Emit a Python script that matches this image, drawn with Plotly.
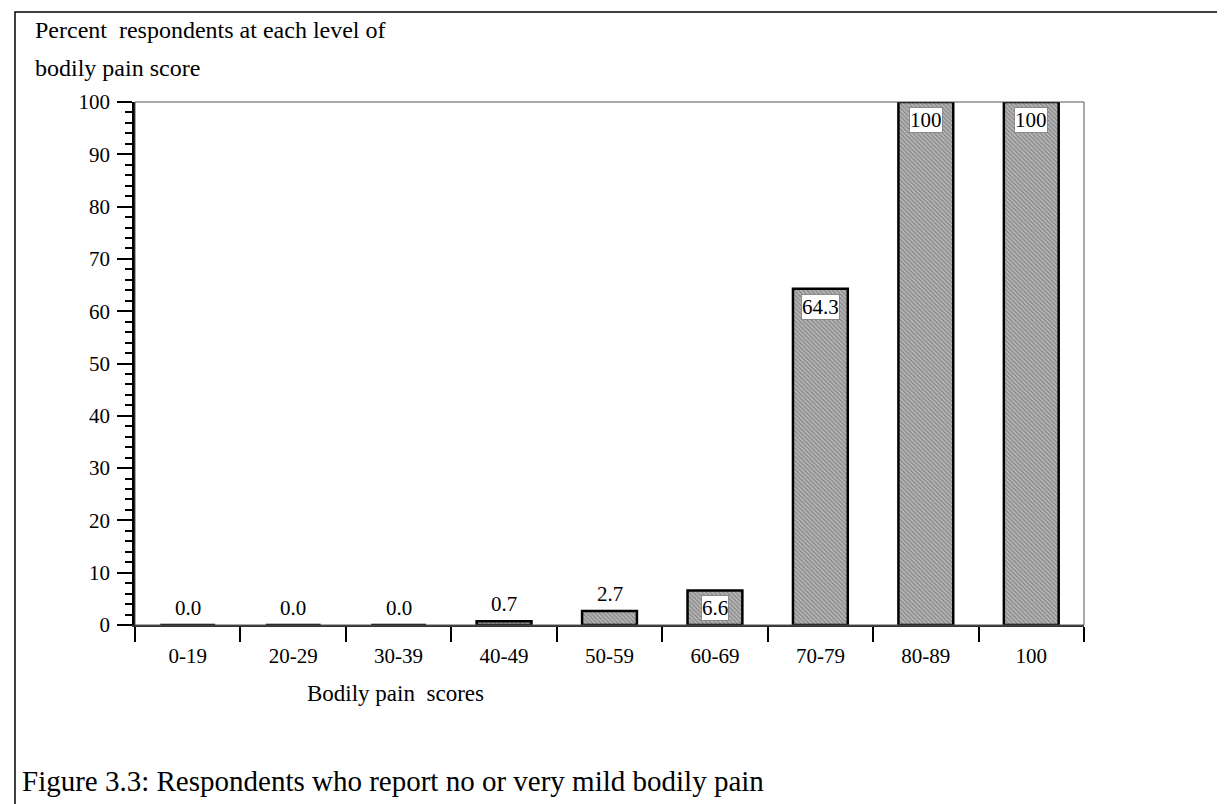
import plotly.graph_objects as go

categories = ["0-19", "20-29", "30-39", "40-49", "50-59", "60-69", "70-79", "80-89", "100"]
values = [0.0, 0.0, 0.0, 0.7, 2.7, 6.6, 64.3, 100, 100]
value_labels = ["0.0", "0.0", "0.0", "0.7", "2.7", "6.6", "64.3", "100", "100"]
y_tick_values = [0, 10, 20, 30, 40, 50, 60, 70, 80, 90, 100]

FONT = "Palatino Linotype, Book Antiqua, Palatino, Liberation Serif, serif"

W, H = 1225, 804
L, R, T, B = 127, 149, 94, 187
pw = W - L - R
ph = H - T - B

def px_x(x):
    return (x - L) / pw

def px_y(y):
    return (H - B - y) / ph

fig = go.Figure()
fig.add_trace(go.Bar(
    x=categories, y=values, width=0.52,
    marker=dict(
        color="#a0a0a0",
        line=dict(color="black", width=2.5),
        pattern=dict(shape="\\", size=3, solidity=0.5, fgcolor="#5c5c5c", bgcolor="#bababa"),
    ),
    hoverinfo="skip",
))

annotations = []
for i, (v, lab) in enumerate(zip(values, value_labels)):
    if v > 5:
        annotations.append(dict(
            x=i, y=v, xref="x", yref="y", text=lab, showarrow=False,
            yanchor="top", yshift=-5, bgcolor="white", bordercolor="#8a8a8a", borderwidth=1, borderpad=0,
            font=dict(family=FONT, size=21, color="black"),
        ))
    else:
        annotations.append(dict(
            x=i, y=v, xref="x", yref="y", text=lab, showarrow=False,
            yanchor="bottom", yshift=3,
            font=dict(family=FONT, size=21, color="black"),
        ))

annotations += [
    dict(x=px_x(25), y=px_y(22), xref="paper", yref="paper", xanchor="left", yanchor="middle",
         text="Percent  respondents at each level of", showarrow=False,
         font=dict(family=FONT, size=24, color="black")),
    dict(x=px_x(25), y=px_y(60), xref="paper", yref="paper", xanchor="left", yanchor="middle",
         text="bodily pain score", showarrow=False,
         font=dict(family=FONT, size=24, color="black")),
    dict(x=px_x(387), y=px_y(685), xref="paper", yref="paper", xanchor="center", yanchor="middle",
         text="Bodily pain  scores", showarrow=False,
         font=dict(family=FONT, size=23, color="black")),
    dict(x=px_x(12), y=px_y(773), xref="paper", yref="paper", xanchor="left", yanchor="middle",
         text="Figure 3.3: Respondents who report no or very mild bodily pain", showarrow=False,
         font=dict(family=FONT, size=29, color="black")),
]

shapes = [
    dict(type="rect", xref="paper", yref="paper", x0=0, y0=0, x1=1, y1=1,
         line=dict(color="#555", width=1), layer="above"),
    dict(type="rect", xref="paper", yref="paper", x0=px_x(7), y0=px_y(801), x1=px_x(1222), y1=px_y(4),
         line=dict(color="black", width=1.5), layer="above"),
]

fig.update_layout(
    width=W, height=H,
    margin=dict(l=L, r=R, t=T, b=B, pad=0),
    paper_bgcolor="white", plot_bgcolor="white",
    showlegend=False, bargap=0.48,
    font=dict(family=FONT, size=21, color="black"),
    annotations=annotations, shapes=shapes,
)
fig.update_xaxes(
    type="category", tickson="boundaries", ticks="outside", ticklen=15, tickwidth=1.5,
    tickcolor="black", showline=True, linecolor="#333", linewidth=2, showgrid=False,
    tickfont=dict(family=FONT, size=21), range=[-0.5, 8.5], ticklabelstandoff=11,
)
fig.update_yaxes(
    range=[0, 100], tickvals=y_tick_values, ticks="outside", ticklen=15, tickwidth=1.5,
    tickcolor="black", showline=True, linecolor="black", linewidth=2.5, showgrid=False, zeroline=False,
    tickfont=dict(family=FONT, size=21), ticklabelstandoff=3,
    minor=dict(dtick=2, ticks="outside", ticklen=7, tickwidth=1.5, tickcolor="black", showgrid=False),
)

fig.write_html("out.html")
